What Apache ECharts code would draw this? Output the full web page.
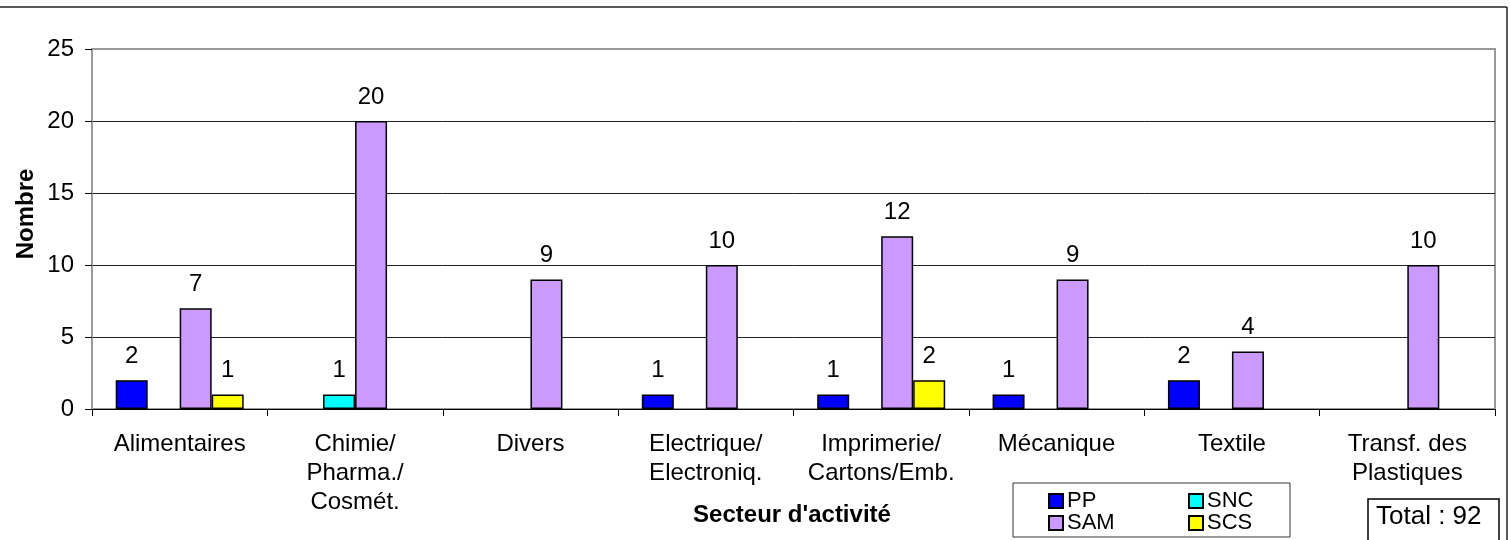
<!DOCTYPE html>
<html>
<head>
<meta charset="utf-8">
<script src="https://cdn.jsdelivr.net/npm/echarts@6/dist/echarts.min.js"></script>
<style>
html,body{margin:0;padding:0;background:#fff;}
#chart{width:1510px;height:540px;}
</style>
</head>
<body>
<div id="chart"></div>
<script>
const categories = ['Alimentaires', 'Chimie/\nPharma./\nCosmét.', 'Divers', 'Electrique/\nElectroniq.', 'Imprimerie/\nCartons/Emb.', 'Mécanique', 'Textile', 'Transf. des\nPlastiques'];
const seriesNames = ['PP', 'SNC', 'SAM', 'SCS'];
const ppValues  = [2, null, null, 1, 1, 1, 2, null];
const sncValues = [null, 1, null, null, null, null, null, null];
const samValues = [7, 20, 9, 10, 12, 9, 4, 10];
const scsValues = [1, null, null, null, 2, null, null, null];
const seriesColors = ['#0000FF', '#00FFFF', '#CC99FF', '#FFFF00'];
const yTicks = {min: 0, max: 25, interval: 5};

const allValues = [ppValues, sncValues, samValues, scsValues];
const total = allValues.reduce((s, arr) => s + arr.reduce((a, v) => a + (v || 0), 0), 0);

const FONT = 'Arial, "Liberation Sans", sans-serif';
const chart = echarts.init(document.getElementById('chart'), null, {renderer: 'canvas'});

const series = seriesNames.map((name, i) => ({
  name: name,
  type: 'bar',
  data: allValues[i],
  barWidth: 32,
  barGap: '0%',
  itemStyle: {color: seriesColors[i], borderColor: '#000', borderWidth: 1.5},
  label: {show: true, position: 'top', distance: 12, fontSize: 24, color: '#000', fontFamily: FONT},
  emphasis: {disabled: true},
  animation: false
}));

const legendCommon = {
  orient: 'vertical',
  top: 490,
  itemWidth: 14,
  itemHeight: 14,
  itemGap: 0,
  icon: 'rect',
  selectedMode: false,
  padding: 0,
  textStyle: {fontSize: 22, color: '#000', fontFamily: FONT, lineHeight: 20, padding: [0, 0, 0, -1]}
};

chart.setOption({
  backgroundColor: '#fff',
  animation: false,
  textStyle: {fontFamily: FONT},
  grid: {left: 92, top: 49, right: 15, bottom: 131, show: true, borderColor: '#999', borderWidth: 2, backgroundColor: 'transparent'},
  legend: [
    Object.assign({}, legendCommon, {left: 1048, data: ['PP', 'SAM']}),
    Object.assign({}, legendCommon, {left: 1188, data: ['SNC', 'SCS']})
  ],
  xAxis: {
    type: 'category',
    data: categories,
    axisLine: {lineStyle: {color: '#000', width: 1}},
    axisTick: {show: true, length: 7, lineStyle: {color: '#000'}},
    axisLabel: {interval: 0, fontSize: 24, color: '#000', margin: 21, lineHeight: 29, fontFamily: FONT, align: 'center'}
  },
  yAxis: {
    type: 'value',
    min: yTicks.min,
    max: yTicks.max,
    interval: yTicks.interval,
    axisLine: {show: true, lineStyle: {color: '#999', width: 2}},
    axisTick: {show: true, length: 7, lineStyle: {color: '#000'}},
    axisLabel: {fontSize: 24, color: '#000', margin: 18, fontFamily: FONT},
    splitLine: {show: true, showMaxLine: false, lineStyle: {color: '#222', width: 1}}
  },
  series: series,
  graphic: [
    {type: 'line', shape: {x1: 0, y1: 7, x2: 1507, y2: 7}, style: {stroke: '#222', lineWidth: 1.5}},
    {type: 'line', shape: {x1: 1507, y1: 7, x2: 1507, y2: 540}, style: {stroke: '#222', lineWidth: 1.5}},
    {type: 'text', x: 26, y: 214, rotation: Math.PI / 2,
      style: {text: 'Nombre', font: 'bold 24px ' + FONT, fill: '#000', align: 'center', verticalAlign: 'middle'}},
    {type: 'text', x: 792, y: 515,
      style: {text: "Secteur d'activité", font: 'bold 24px ' + FONT, fill: '#000', align: 'center', verticalAlign: 'middle'}},
    {type: 'rect', shape: {x: 1013, y: 483, width: 277, height: 54}, style: {fill: 'none', stroke: '#333', lineWidth: 1}, z: -1},
    {type: 'rect', shape: {x: 1368, y: 499, width: 131, height: 60}, style: {fill: '#fff', stroke: '#000', lineWidth: 1.5}},
    {type: 'text', x: 1376, y: 517,
      style: {text: 'Total : ' + total, font: '26px ' + FONT, fill: '#000', align: 'left', verticalAlign: 'middle'}}
  ]
});
</script>
</body>
</html>
